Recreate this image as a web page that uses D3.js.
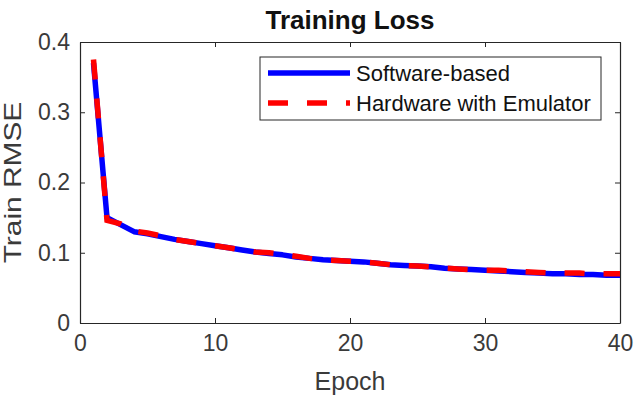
<!DOCTYPE html>
<html><head><meta charset="utf-8">
<script src="https://cdn.jsdelivr.net/npm/d3@7"></script>
<style>body{margin:0;background:#fff}svg{display:block}text{font-family:"Liberation Sans",Arial,sans-serif}</style>
</head><body>
<script>
const epochs = d3.range(1, 41);
const software = [0.370,0.150,0.140,0.130,0.127,0.123,0.119,0.116,0.113,0.110,0.107,0.104,0.101,0.099,0.097,0.094,0.092,0.090,0.089,0.088,0.087,0.085,0.083,0.082,0.081,0.080,0.078,0.077,0.076,0.075,0.074,0.073,0.072,0.071,0.070,0.070,0.069,0.069,0.068,0.068];
const hardware = [0.375,0.146,0.141,0.131,0.128,0.124,0.119,0.116,0.113,0.110,0.107,0.104,0.101,0.100,0.098,0.095,0.092,0.090,0.089,0.088,0.087,0.085,0.083,0.082,0.081,0.080,0.078,0.077,0.076,0.075,0.075,0.074,0.073,0.072,0.071,0.071,0.071,0.070,0.070,0.070];
const xTicks = [0,10,20,30,40];
const yTicks = [0,0.1,0.2,0.3,0.4];
const seriesNames = ["Software-based","Hardware with Emulator"];

const W=643,H=398;
const m={l:80,r:23,t:42,b:75};
const svg=d3.select("body").append("svg").attr("width",W).attr("height",H);
const x=d3.scaleLinear().domain([0,40]).range([m.l,W-m.r]);
const y=d3.scaleLinear().domain([0,0.4]).range([H-m.b,m.t]);
const axCol="#262626";

const g=svg.append("g");
g.append("g").attr("transform",`translate(0,${y(0)})`)
  .call(d3.axisBottom(x).tickValues(xTicks).tickSizeInner(-5).tickSizeOuter(0).tickPadding(12).tickFormat(d3.format("d")));
g.append("g").attr("transform",`translate(0,${y(0.4)})`)
  .call(d3.axisTop(x).tickValues(xTicks).tickSizeInner(-5).tickSizeOuter(0).tickFormat(""));
g.append("g").attr("transform",`translate(${x(0)},0)`)
  .call(d3.axisLeft(y).tickValues(yTicks).tickSizeInner(-5).tickSizeOuter(0).tickPadding(10).tickFormat(d=>d===0?"0":d3.format(".1f")(d)));
g.append("g").attr("transform",`translate(${x(40)},0)`)
  .call(d3.axisRight(y).tickValues(yTicks).tickSizeInner(-5).tickSizeOuter(0).tickFormat(""));
g.selectAll(".domain").attr("stroke",axCol).attr("stroke-width",1.2);
g.selectAll(".tick line").attr("stroke",axCol);
g.selectAll(".tick text").attr("fill","#3a3a3a").style("font-size","23px");

const line=d3.line().x((d,i)=>x(epochs[i])).y(d=>y(d));
svg.append("path").datum(software).attr("d",line).attr("fill","none").attr("stroke","#0000ff").attr("stroke-width",5.5).attr("stroke-linejoin","round");
svg.append("path").datum(hardware).attr("d",line).attr("fill","none").attr("stroke","#ff0000").attr("stroke-width",5.5).attr("stroke-dasharray","20,19");

svg.append("text").attr("x",(x(0)+x(40))/2).attr("y",29).attr("text-anchor","middle").style("font-size","26px").style("font-weight","bold").attr("fill","#111").text("Training Loss");
svg.append("text").attr("x",(x(0)+x(40))/2).attr("y",390).attr("text-anchor","middle").style("font-size","25px").attr("fill","#3a3a3a").text("Epoch");
svg.append("text").attr("transform",`translate(21,${(y(0)+y(0.4))/2}) rotate(-90) scale(1.3,1)`).attr("text-anchor","middle").style("font-size","23px").attr("fill","#3a3a3a").text("Train RMSE");

const lg=svg.append("g");
lg.append("rect").attr("x",260).attr("y",57).attr("width",341).attr("height",63).attr("fill","#fff").attr("stroke",axCol).attr("stroke-width",1);
const colors=["#0000ff","#ff0000"];
seriesNames.forEach((n,i)=>{
  const yy=73+i*30;
  lg.append("line").attr("x1",268).attr("x2",350).attr("y1",yy).attr("y2",yy).attr("stroke",colors[i]).attr("stroke-width",5.5).attr("stroke-dasharray",i?"20,19":null);
  lg.append("text").attr("x",356).attr("y",yy+8).style("font-size","22px").attr("fill","#111").text(n);
});
</script>
</body></html>
